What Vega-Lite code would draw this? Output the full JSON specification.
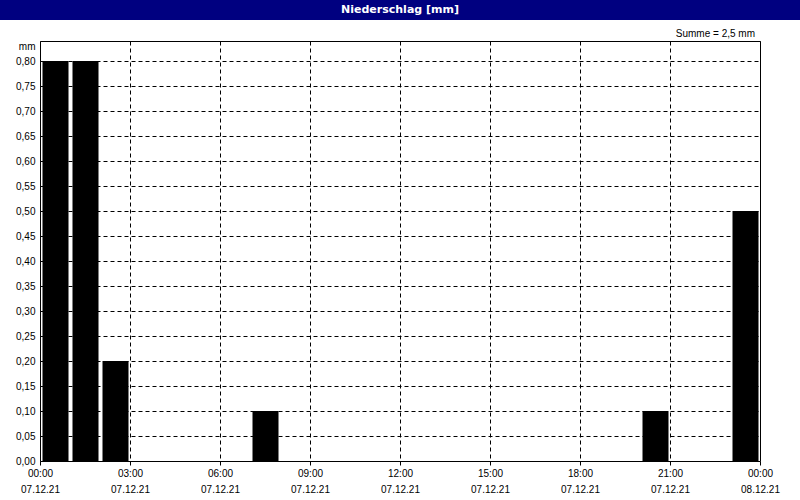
{
  "padding": 0,
  "background": "white",
  "spacing": 8,
  "config": {
    "font": "Liberation Sans",
    "view": {"stroke": "black", "strokeWidth": 1},
    "axis": {"labelFont": "Liberation Sans", "labelFontSize": 10, "labelColor": "black"}
  },
  "vconcat": [
    {
      "width": 800,
      "height": 20,
      "view": {"fill": "#000080", "stroke": null},
      "data": {"values": [{"t": "Niederschlag [mm]"}]},
      "mark": {"type": "text", "color": "white", "fontWeight": "bold", "fontSize": 11, "font": "DejaVu Sans"},
      "encoding": {"text": {"field": "t", "type": "nominal"}}
    },
    {
      "spacing": 0,
      "hconcat": [
        {
          "width": 15,
          "height": 10,
          "view": {"stroke": null, "fill": "white"},
          "data": {"values": [{"t": ""}]},
          "mark": "text",
          "encoding": {"text": {"field": "t", "type": "nominal"}}
        },
        {
          "width": 720,
          "height": 420,
          "title": {"text": "Summe = 2,5 mm", "anchor": "end", "frame": "group", "fontSize": 10, "fontWeight": "normal", "offset": 2, "color": "black", "dx": -5},
          "data": {"values": [
            {"time": "2021-12-07T00:00:00Z", "value": 0.8},
            {"time": "2021-12-07T01:00:00Z", "value": 0.8},
            {"time": "2021-12-07T02:00:00Z", "value": 0.2},
            {"time": "2021-12-07T07:00:00Z", "value": 0.1},
            {"time": "2021-12-07T20:00:00Z", "value": 0.1},
            {"time": "2021-12-07T23:00:00Z", "value": 0.5}
          ]},
          "mark": {"type": "bar", "color": "black", "binSpacing": 4},
          "encoding": {
            "x": {
              "field": "time",
              "timeUnit": "utcyearmonthdatehours",
              "type": "temporal",
              "scale": {"domain": [1638835200000, 1638921600000], "nice": false},
              "axis": {
                "title": null,
                "values": [1638835200000, 1638846000000, 1638856800000, 1638867600000, 1638878400000, 1638889200000, 1638900000000, 1638910800000, 1638921600000],
                "labelExpr": "[utcFormat(datum.value, '%H:%M'), utcFormat(datum.value, '%d.%m.%y')]",
                "labelOverlap": false,
                "labelFlush": false,
                "labelBaseline": "top",
                "labelLineHeight": 16,
                "labelPadding": 3,
                "grid": true,
                "gridColor": "black",
                "gridDash": [4, 3],
                "tickSize": 4,
                "tickColor": "black",
                "domain": false
              }
            },
            "y": {
              "field": "value",
              "type": "quantitative",
              "scale": {"domain": [0, 0.84], "nice": false},
              "axis": {
                "values": [0, 0.05, 0.1, 0.15, 0.2, 0.25, 0.3, 0.35, 0.4, 0.45, 0.5, 0.55, 0.6, 0.65, 0.7, 0.75, 0.8],
                "labelExpr": "'0,' + format(datum.value * 100, '02d')",
                "grid": true,
                "gridColor": "black",
                "gridDash": [4, 3],
                "ticks": false,
                "domain": false,
                "labelPadding": 5,
                "title": "mm",
                "titleAngle": 0,
                "titleAlign": "right",
                "titleBaseline": "middle",
                "titleX": -5,
                "titleY": 5,
                "titleFontWeight": "normal",
                "titleFontSize": 10,
                "titleColor": "black"
              }
            }
          }
        }
      ]
    }
  ]
}
